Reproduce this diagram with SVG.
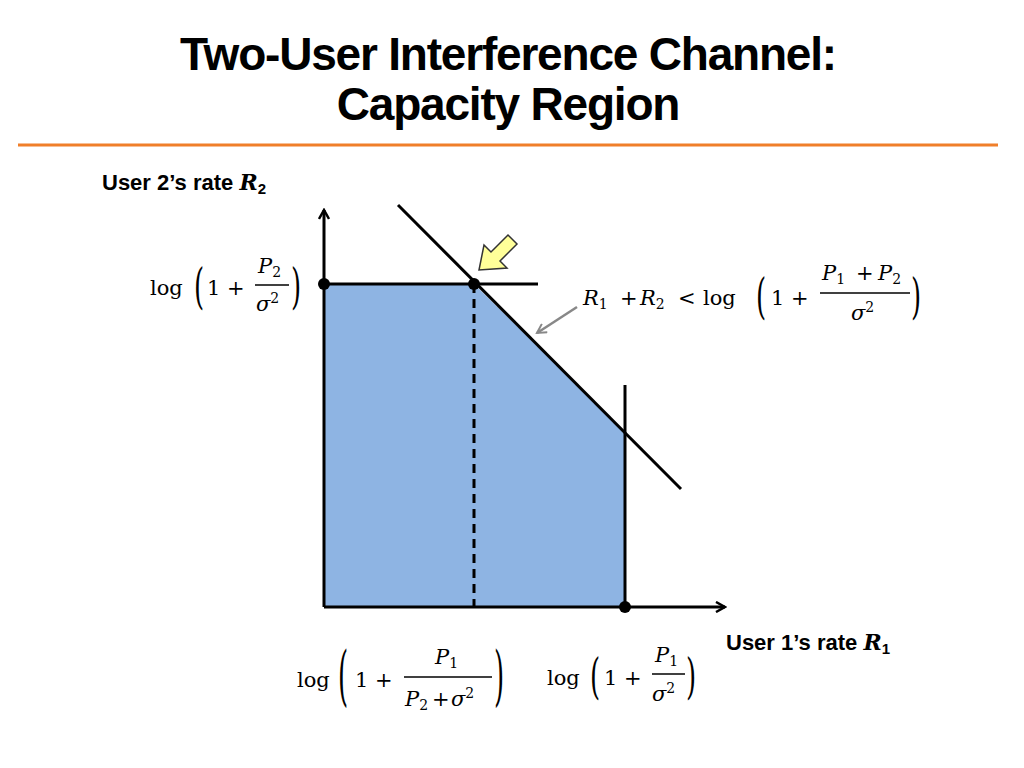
<svg xmlns="http://www.w3.org/2000/svg" width="1024" height="768" viewBox="0 0 1024 768">
<style>
.t{font-family:"Liberation Sans",Arial,sans-serif;font-weight:bold;fill:#000}
.m{font-family:"DejaVu Serif","Liberation Serif",serif;font-size:21px;fill:#000}
.i{font-style:italic}
.p{font-family:"DejaVu Serif","Liberation Serif",serif;font-size:26px;fill:#000;font-weight:normal}
.s{font-size:14px}
.ln{stroke:#000;stroke-width:3;fill:none}
.fr{stroke:#000;stroke-width:1.3}
</style>
<defs>
<marker id="ah" markerWidth="12" markerHeight="12" refX="10" refY="6" orient="auto" markerUnits="userSpaceOnUse"><path d="M1,1 L10,6 L1,11" fill="none" stroke="#000" stroke-width="2.5"/></marker>
<marker id="gh" markerWidth="12" markerHeight="12" refX="10" refY="6" orient="auto" markerUnits="userSpaceOnUse"><path d="M1,1 L10,6 L1,11" fill="none" stroke="#888" stroke-width="2"/></marker>
</defs>
<rect width="1024" height="768" fill="#fff"/>
<g id="title">
<text class="t" x="508" y="70" font-size="46" text-anchor="middle" letter-spacing="-1.2">Two-User Interference Channel:</text>
<text class="t" x="508" y="120" font-size="46" text-anchor="middle" letter-spacing="-1.2">Capacity Region</text>
<line x1="18" y1="145" x2="998" y2="145" stroke="#f07f2a" stroke-width="3"/>
</g>
<g id="region"><polygon points="324,284 474,284 625,432 625,607 324,607" fill="#8eb4e3"/></g>
<g id="connectors">
<line class="ln" x1="324" y1="607" x2="324" y2="210" marker-end="url(#ah)"/>
<line class="ln" x1="324" y1="607" x2="725" y2="607" marker-end="url(#ah)"/>
<line class="ln" x1="398" y1="205" x2="681" y2="489"/>
<line class="ln" x1="324" y1="284" x2="538" y2="284"/>
<line class="ln" x1="625" y1="385" x2="625" y2="607"/>
<line class="ln" x1="474" y1="284" x2="474" y2="607" stroke-dasharray="9,6"/>
<line x1="577" y1="307" x2="537" y2="333" stroke="#888" stroke-width="2.5" marker-end="url(#gh)"/>
<polygon points="479,270 484,245 491,252 508,235 517,244 500,261 507,268" fill="#ffff99" stroke="#333" stroke-width="1.5"/>
<circle cx="324" cy="284" r="6"/><circle cx="474" cy="284" r="6"/><circle cx="625" cy="607" r="6"/>
</g>
<g id="labels">
<text class="t" x="102" y="190" font-size="22">User 2’s rate <tspan class="i" font-family="DejaVu Serif,serif" font-size="22">R</tspan><tspan font-size="15" dy="4">2</tspan></text>
<text class="t" x="726" y="650" font-size="22">User 1’s rate <tspan class="i" font-family="DejaVu Serif,serif" font-size="22">R</tspan><tspan font-size="15" dy="4">1</tspan></text>
</g>
<g id="f1">
<text class="m" x="150" y="295">log</text>
<text class="p" transform="translate(194,303) scale(1,1.9)">(</text>
<text class="m" x="207" y="295">1 +</text>
<text class="m i" x="258" y="273">P<tspan class="s" font-style="normal" dy="4">2</tspan></text>
<line class="fr" x1="255" y1="285" x2="289" y2="285"/>
<text class="m i" x="256" y="311">σ<tspan class="s" font-style="normal" dy="-8">2</tspan></text>
<text class="p" transform="translate(291,303) scale(1,1.9)">)</text>
</g>
<g id="f2">
<text class="m i" x="583" y="305">R<tspan class="s" font-style="normal" dy="4">1</tspan></text>
<text class="m" x="620" y="305">+</text>
<text class="m i" x="640" y="305">R<tspan class="s" font-style="normal" dy="4">2</tspan></text>
<text class="m" x="678" y="305">&lt;</text>
<text class="m" x="703" y="305">log</text>
<text class="p" transform="translate(756,313) scale(1,1.9)">(</text>
<text class="m" x="771" y="305">1 +</text>
<text class="m i" x="822" y="280">P<tspan class="s" font-style="normal" dy="4">1</tspan></text>
<text class="m" x="856" y="280">+</text>
<text class="m i" x="878" y="280">P<tspan class="s" font-style="normal" dy="4">2</tspan></text>
<line class="fr" x1="820" y1="293" x2="910" y2="293"/>
<text class="m i" x="851" y="320">σ<tspan class="s" font-style="normal" dy="-8">2</tspan></text>
<text class="p" transform="translate(911,313) scale(1,1.9)">)</text>
</g>
<g id="f3">
<text class="m" x="297" y="687">log</text>
<text class="p" transform="translate(338,698) scale(1,2.5)">(</text>
<text class="m" x="355" y="687">1 +</text>
<text class="m i" x="435" y="664">P<tspan class="s" font-style="normal" dy="4">1</tspan></text>
<line class="fr" x1="404" y1="677" x2="492" y2="677"/>
<text class="m i" x="405" y="706">P<tspan class="s" font-style="normal" dy="4">2</tspan></text>
<text class="m" x="432" y="706">+</text>
<text class="m i" x="451" y="706">σ<tspan class="s" font-style="normal" dy="-8">2</tspan></text>
<text class="p" transform="translate(494,698) scale(1,2.5)">)</text>
</g>
<g id="f4">
<text class="m" x="547" y="685">log</text>
<text class="p" transform="translate(590,693) scale(1,1.9)">(</text>
<text class="m" x="604" y="685">1 +</text>
<text class="m i" x="655" y="662">P<tspan class="s" font-style="normal" dy="4">1</tspan></text>
<line class="fr" x1="652" y1="674" x2="685" y2="674"/>
<text class="m i" x="652" y="701">σ<tspan class="s" font-style="normal" dy="-8">2</tspan></text>
<text class="p" transform="translate(686,693) scale(1,1.9)">)</text>
</g>
</svg>
